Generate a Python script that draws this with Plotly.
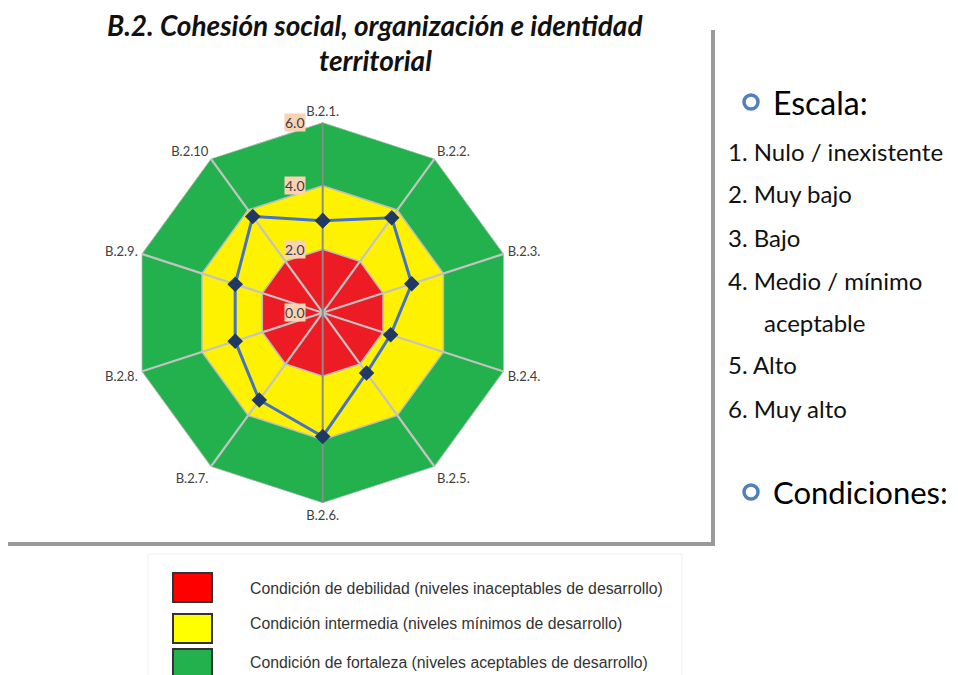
import plotly.graph_objects as go

# ---------------- data ----------------
categories = ["B.2.1.", "B.2.2.", "B.2.3.", "B.2.4.", "B.2.5.",
              "B.2.6.", "B.2.7.", "B.2.8.", "B.2.9.", "B.2.10"]
values = [2.9, 3.7, 2.95, 2.25, 2.35, 3.9, 3.4, 2.9, 2.9, 3.75]

band_levels = [6, 4, 2]
band_colors = ["#22B14C", "#FFF200", "#ED1C24"]

tick_values = [0, 2, 4, 6]
tick_labels = ["0.0", "2.0", "4.0", "6.0"]

title_lines = ["B.2. Cohesión social, organización e identidad", "territorial"]

scale_header = "Escala:"
scale_items = ["1. Nulo / inexistente", "2. Muy bajo", "3. Bajo",
               "4. Medio / mínimo", "aceptable", "5. Alto", "6. Muy alto"]
conditions_header = "Condiciones:"

legend_labels = ["Condición de debilidad (niveles inaceptables de desarrollo)",
                 "Condición intermedia (niveles mínimos de desarrollo)",
                 "Condición de fortaleza (niveles aceptables de desarrollo)"]
legend_colors = ["#FF0000", "#FFFF00", "#22B14C"]

# ---------------- figure geometry ----------------
OFF = 8                      # page body margin
W, H = 958 - OFF, 675 - OFF  # figure size so it ends at the window edge


def X(px):
    return (px - OFF) / W


def Y(py):
    return 1 - (py - OFF) / H


cx, cy, R = 322.7, 312.7, 190.4
dom_x = [X(cx - R), X(cx + R)]
dom_y = [Y(cy + R), Y(cy - R)]

fig = go.Figure()
closed_cats = categories + [categories[0]]

# condition bands
for lvl, col in zip(band_levels, band_colors):
    fig.add_trace(go.Scatterpolar(
        r=[lvl] * len(closed_cats), theta=closed_cats, mode="lines",
        fill="toself", fillcolor=col,
        line=dict(color="#BDBDBD", width=1.5),
        hoverinfo="skip", showlegend=False))

# spokes
light_r, light_t, dark_r, dark_t = [], [], [], []
for i, c in enumerate(categories):
    if i in (0, 5):
        dark_r += [0, band_levels[0], None]
        dark_t += [c, c, None]
    else:
        light_r += [0, band_levels[0], None]
        light_t += [c, c, None]
fig.add_trace(go.Scatterpolar(r=light_r, theta=light_t, mode="lines",
                              line=dict(color="#C3C3C3", width=2.2),
                              hoverinfo="skip", showlegend=False, connectgaps=False))
fig.add_trace(go.Scatterpolar(r=dark_r, theta=dark_t, mode="lines",
                              line=dict(color="#8C8C8C", width=2),
                              hoverinfo="skip", showlegend=False, connectgaps=False))

# data series
fig.add_trace(go.Scatterpolar(
    r=values + [values[0]], theta=closed_cats, mode="lines+markers",
    line=dict(color="#4472C4", width=3),
    marker=dict(symbol="diamond", size=12, color="#1F3864"),
    showlegend=False))

# invisible cartesian helper to host radial tick-label annotations
fig.add_trace(go.Scatter(x=[0] * len(tick_values), y=tick_values, mode="markers",
                         marker=dict(opacity=0), hoverinfo="skip", showlegend=False))

fig.update_layout(
    width=W, height=H,
    margin=dict(l=0, r=0, t=0, b=0),
    paper_bgcolor="white", plot_bgcolor="rgba(0,0,0,0)",
    polar=dict(
        domain=dict(x=dom_x, y=dom_y),
        bgcolor="rgba(0,0,0,0)",
        gridshape="linear",
        radialaxis=dict(range=[0, 6], visible=False),
        angularaxis=dict(
            type="category", categoryarray=categories,
            direction="clockwise", rotation=90,
            showgrid=False, showline=False,
            ticks="outside", ticklen=1, tickcolor="rgba(0,0,0,0)",
            tickfont=dict(family="Lato", size=13, color="#404040"),
        ),
    ),
    xaxis=dict(domain=dom_x, range=[-6, 6], visible=False, fixedrange=True),
    yaxis=dict(domain=dom_y, range=[-6, 6], visible=False, fixedrange=True),
)

annotations = []
# radial tick labels with peach background
for v, t in zip(tick_values, tick_labels):
    annotations.append(dict(x=0, y=v, xref="x", yref="y", text=t, showarrow=False,
                            xanchor="right", yanchor="middle", xshift=-17,
                            bgcolor="#FAD2B4", borderpad=0,
                            font=dict(family="Lato", size=14, color="#404040")))

# title
for i, line in enumerate(title_lines):
    annotations.append(dict(x=X(375), y=Y(25 + 35 * i), xref="paper", yref="paper",
                            text=line, showarrow=False, xanchor="center", yanchor="middle",
                            borderpad=0,
                            font=dict(family="Lato", size=28, color="#111111",
                                      weight="bold", style="italic")))

# right-side scale text
annotations.append(dict(x=X(771), y=Y(102), xref="paper", yref="paper",
                        text=scale_header, showarrow=False, xanchor="left", yanchor="middle",
                        font=dict(family="Lato", size=32, color="#000000")))
item_y = [151, 193, 237, 280, 322, 365, 408]
for txt, yy in zip(scale_items, item_y):
    x0 = 762 if txt == "aceptable" else 726
    annotations.append(dict(x=X(x0), y=Y(yy), xref="paper", yref="paper",
                            text=txt, showarrow=False, xanchor="left", yanchor="middle",
                            font=dict(family="Lato", size=24, color="#111111")))
annotations.append(dict(x=X(771), y=Y(492), xref="paper", yref="paper",
                        text=conditions_header, showarrow=False, xanchor="left", yanchor="middle",
                        font=dict(family="Lato", size=31, color="#000000")))

# bottom legend text
leg_y = [588, 623, 662]
for txt, yy in zip(legend_labels, leg_y):
    annotations.append(dict(x=X(248), y=Y(yy), xref="paper", yref="paper",
                            text=txt, showarrow=False, xanchor="left", yanchor="middle",
                            font=dict(family="Liberation Sans", size=15.8, color="#333333")))

shapes = []
# frame shadow
shapes.append(dict(type="line", xref="paper", yref="paper",
                   x0=X(713), x1=X(713), y0=Y(546), y1=Y(30),
                   line=dict(color="#999999", width=4)))
shapes.append(dict(type="line", xref="paper", yref="paper",
                   x0=X(8), x1=X(714), y0=Y(544), y1=Y(544),
                   line=dict(color="#999999", width=4)))
# faint legend frame
shapes.append(dict(type="rect", xref="paper", yref="paper",
                   x0=X(148), x1=X(682), y0=Y(690), y1=Y(554),
                   line=dict(color="#EEEEEE", width=1)))
# legend swatches
sw_y = [(573, 602), (614, 643), (649, 690)]
for col, (y0, y1) in zip(legend_colors, sw_y):
    shapes.append(dict(type="rect", xref="paper", yref="paper",
                       x0=X(173), x1=X(212), y0=Y(y1), y1=Y(y0),
                       fillcolor=col, line=dict(color="#333333", width=2)))
# bullets
for yy in (102, 492):
    shapes.append(dict(type="circle", xref="paper", yref="paper",
                       x0=X(744), x1=X(758), y0=Y(yy + 7), y1=Y(yy - 7),
                       line=dict(color="#4F81BD", width=3.5), fillcolor="white"))

fig.update_layout(annotations=annotations, shapes=shapes)
fig.write_html("out.html")
